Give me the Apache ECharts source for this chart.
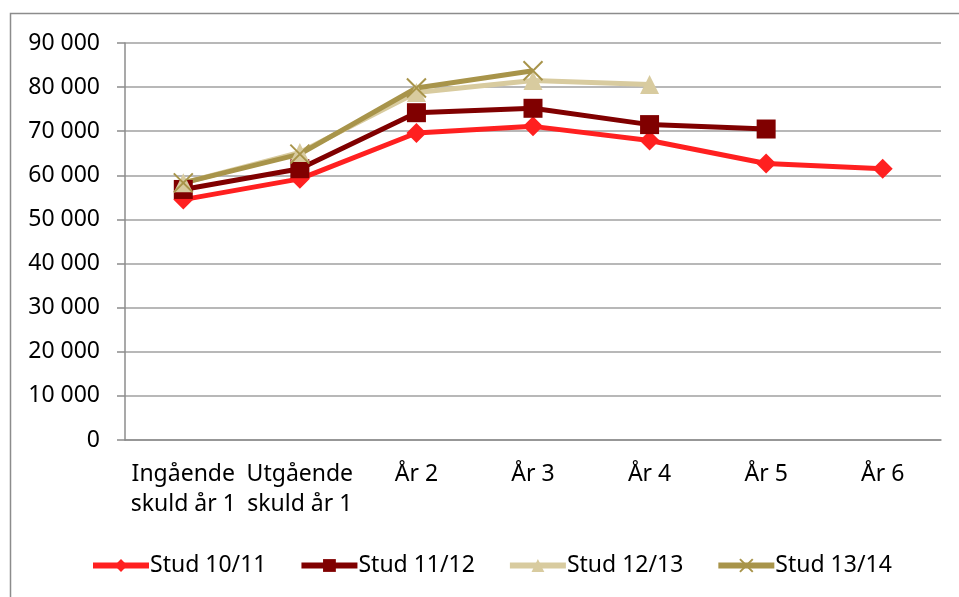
<!DOCTYPE html>
<html>
<head>
<meta charset="utf-8">
<script src="https://cdn.jsdelivr.net/npm/echarts@6/dist/echarts.min.js"></script>
<style>
  html, body { margin: 0; padding: 0; background: #fff; }
  #chart { width: 959px; height: 597px; }
</style>
</head>
<body>
<div id="chart"></div>
<script>
const categories = ["Ingående\nskuld år 1", "Utgående\nskuld år 1", "År 2", "År 3", "År 4", "År 5", "År 6"];
const seriesNames = ["Stud 10/11", "Stud 11/12", "Stud 12/13", "Stud 13/14"];
const stud1011 = [54500, 59200, 69600, 71100, 67900, 62700, 61500];
const stud1112 = [56800, 61500, 74200, 75200, 71500, 70500, null];
const stud1213 = [58300, 65200, 78800, 81500, 80600, null, null];
const stud1314 = [58300, 64800, 79800, 83700, null, null, null];

const font = "Noto Sans";
const colors = ["#ff2020", "#800000", "#d8cb9f", "#a8944a"];

const chart = echarts.init(document.getElementById("chart"));
const option = {
  animation: false,
  color: colors,
  textStyle: { fontFamily: font },
  graphic: [
    {
      type: "rect",
      shape: { x: 10.5, y: 13.5, width: 980, height: 620 },
      style: { fill: "none", stroke: "#8c8c8c", lineWidth: 1.5 },
    },
  ],
  grid: {
    left: 125,
    right: 18,
    top: 43,
    bottom: 157,
  },
  legend: {
    data: seriesNames,
    left: 90,
    top: 554,
    padding: 0,
    itemGap: 32,
    itemWidth: 56,
    itemHeight: 16,
    lineStyle: { width: 6 },
    textStyle: { fontFamily: font, fontSize: 23, color: "#000", padding: [0, 0, 0, -4] },
  },
  xAxis: {
    type: "category",
    data: categories,
    boundaryGap: true,
    axisLine: { lineStyle: { color: "#8c8c8c", width: 1.5 } },
    axisTick: { length: 7, lineStyle: { color: "#8c8c8c", width: 1.5 } },
    axisLabel: {
      color: "#000",
      fontFamily: font,
      fontSize: 23,
      lineHeight: 30,
      margin: 19,
      interval: 0,
    },
  },
  yAxis: {
    type: "value",
    min: 0,
    max: 90000,
    interval: 10000,
    axisLine: { show: true, lineStyle: { color: "#8c8c8c", width: 1.5 } },
    axisTick: { show: true, length: 8, lineStyle: { color: "#8c8c8c", width: 1.5 } },
    splitLine: { lineStyle: { color: "#a0a0a0", width: 1.5 } },
    axisLabel: {
      color: "#000",
      fontFamily: font,
      fontSize: 23,
      margin: 25,
      formatter: function (v) {
        return String(v).replace(/\B(?=(\d{3})+(?!\d))/g, " ");
      },
    },
  },
  series: [
    {
      name: seriesNames[0],
      type: "line",
      data: stud1011,
      symbol: "diamond",
      symbolSize: 20,
      lineStyle: { width: 5, color: colors[0] },
      itemStyle: { color: colors[0] },
    },
    {
      name: seriesNames[1],
      type: "line",
      data: stud1112,
      symbol: "rect",
      symbolSize: 19,
      lineStyle: { width: 5, color: colors[1] },
      itemStyle: { color: colors[1] },
    },
    {
      name: seriesNames[2],
      type: "line",
      data: stud1213,
      symbol: "triangle",
      symbolSize: 19,
      lineStyle: { width: 5, color: colors[2] },
      itemStyle: { color: colors[2] },
    },
    {
      name: seriesNames[3],
      type: "line",
      data: stud1314,
      symbol: "path://M0,0L10,10M10,0L0,10",
      symbolSize: 19,
      lineStyle: { width: 5, color: colors[3] },
      itemStyle: { color: colors[3], borderColor: colors[3], borderWidth: 2 },
    },
  ],
};
chart.setOption(option);
window.onresize = chart.resize;
</script>
</body>
</html>
